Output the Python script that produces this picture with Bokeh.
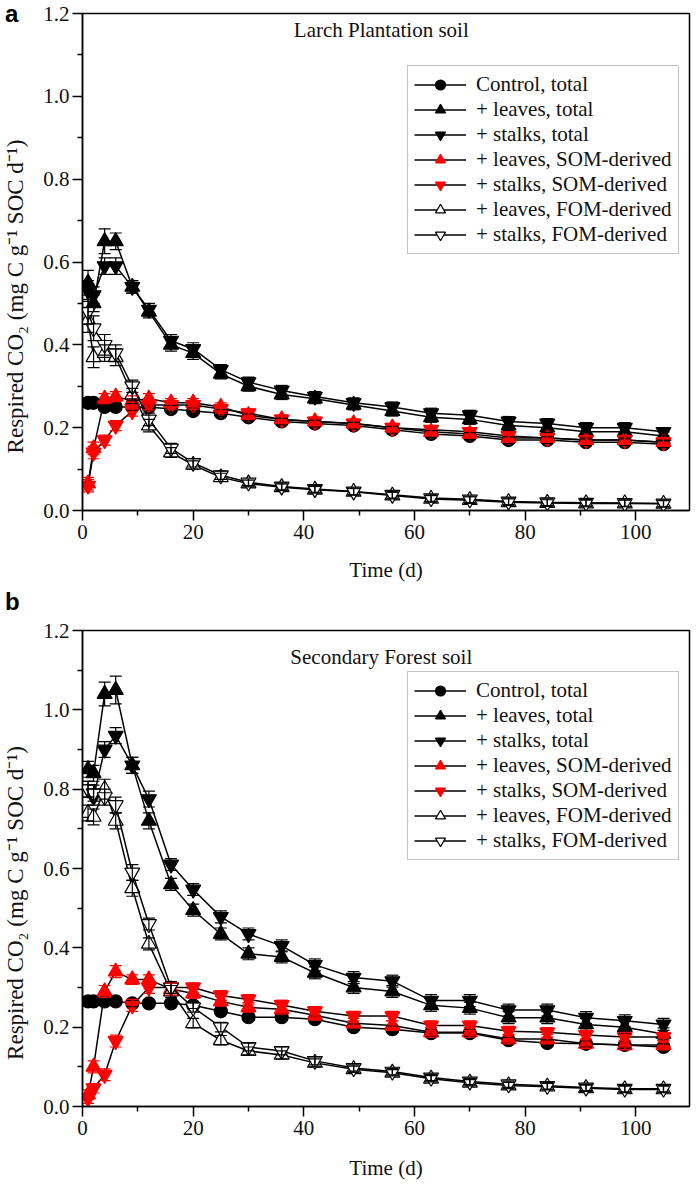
from bokeh.plotting import figure
from bokeh.models import (ColumnDataSource, Whisker, TeeHead, Label, Legend, LegendItem,
                          FixedTicker, NumeralTickFormatter, Range1d, Div)
from bokeh.layouts import column
from bokeh.embed import file_html
from bokeh.resources import INLINE

# ---------------- data ----------------
days = [1, 2, 4, 6, 9, 12, 16, 20, 25, 30, 36, 42, 49, 56, 63, 70, 77, 84, 91, 98, 105]

x_ticks = [0, 20, 40, 60, 80, 100]
x_minor = [10, 30, 50, 70, 90]
y_ticks = [0.0, 0.2, 0.4, 0.6, 0.8, 1.0, 1.2]
y_minor = [0.1, 0.3, 0.5, 0.7, 0.9, 1.1]

labels = ["Control, total", "+ leaves, total", "+ stalks, total",
          "+ leaves, SOM-derived", "+ stalks, SOM-derived",
          "+ leaves, FOM-derived", "+ stalks, FOM-derived"]
markers = ["circle", "triangle", "inverted_triangle", "triangle", "inverted_triangle",
           "triangle", "inverted_triangle"]
fills = ["black", "black", "black", "red", "red", "white", "white"]
edges = ["black", "black", "black", "red", "red", "black", "black"]

# panel a: Larch Plantation soil
ctrl_a = [0.26, 0.26, 0.25, 0.25, 0.25, 0.25, 0.245, 0.24, 0.235, 0.225, 0.215, 0.21, 0.205, 0.195, 0.185, 0.18, 0.17, 0.17, 0.165, 0.165, 0.16]
leaves_tot_a = [0.55, 0.50, 0.65, 0.65, 0.54, 0.48, 0.40, 0.38, 0.33, 0.30, 0.28, 0.27, 0.255, 0.24, 0.225, 0.22, 0.205, 0.20, 0.19, 0.19, 0.18]
stalks_tot_a = [0.53, 0.52, 0.59, 0.59, 0.54, 0.485, 0.41, 0.39, 0.34, 0.31, 0.29, 0.275, 0.26, 0.25, 0.235, 0.23, 0.215, 0.21, 0.20, 0.20, 0.19]
leaves_som_a = [0.065, 0.15, 0.27, 0.275, 0.265, 0.27, 0.26, 0.26, 0.25, 0.23, 0.22, 0.215, 0.21, 0.20, 0.19, 0.185, 0.175, 0.175, 0.17, 0.17, 0.165]
stalks_som_a = [0.06, 0.14, 0.17, 0.205, 0.24, 0.255, 0.255, 0.255, 0.245, 0.235, 0.22, 0.215, 0.21, 0.20, 0.195, 0.19, 0.18, 0.175, 0.17, 0.17, 0.165]
leaves_fom_a = [0.46, 0.37, 0.38, 0.37, 0.28, 0.205, 0.14, 0.11, 0.08, 0.065, 0.056, 0.05, 0.045, 0.036, 0.028, 0.025, 0.02, 0.018, 0.017, 0.017, 0.016]
stalks_fom_a = [0.48, 0.44, 0.40, 0.38, 0.30, 0.22, 0.15, 0.115, 0.085, 0.068, 0.058, 0.052, 0.046, 0.038, 0.03, 0.027, 0.022, 0.02, 0.019, 0.018, 0.017]

err_ctrl_a = [0.010, 0.008, 0.008, 0.008, 0.008, 0.008, 0.008, 0.008, 0.008, 0.008, 0.008, 0.008, 0.008, 0.008, 0.008, 0.008, 0.008, 0.008, 0.008, 0.008, 0.008]
err_leaves_tot_a = [0.030, 0.020, 0.030, 0.020, 0.015, 0.015, 0.015, 0.015, 0.012, 0.012, 0.012, 0.012, 0.012, 0.012, 0.012, 0.012, 0.012, 0.012, 0.012, 0.012, 0.010]
err_stalks_tot_a = [0.025, 0.020, 0.020, 0.020, 0.015, 0.015, 0.015, 0.015, 0.012, 0.012, 0.012, 0.012, 0.012, 0.012, 0.012, 0.012, 0.012, 0.012, 0.012, 0.012, 0.010]
err_leaves_som_a = [0.015, 0.015, 0.012, 0.012, 0.012, 0.012, 0.010, 0.010, 0.010, 0.010, 0.010, 0.010, 0.010, 0.010, 0.010, 0.010, 0.010, 0.010, 0.010, 0.010, 0.010]
err_stalks_som_a = [0.015, 0.015, 0.012, 0.012, 0.012, 0.012, 0.010, 0.010, 0.010, 0.010, 0.010, 0.010, 0.010, 0.010, 0.010, 0.010, 0.010, 0.010, 0.010, 0.010, 0.010]
err_leaves_fom_a = [0.030, 0.025, 0.020, 0.020, 0.015, 0.015, 0.012, 0.010, 0.010, 0.008, 0.008, 0.008, 0.008, 0.008, 0.008, 0.008, 0.008, 0.008, 0.008, 0.008, 0.008]
err_stalks_fom_a = [0.030, 0.030, 0.025, 0.020, 0.015, 0.015, 0.012, 0.010, 0.010, 0.008, 0.008, 0.008, 0.008, 0.008, 0.008, 0.008, 0.008, 0.008, 0.008, 0.008, 0.008]

# panel b: Secondary Forest soil
ctrl_b = [0.265, 0.265, 0.265, 0.265, 0.26, 0.26, 0.26, 0.255, 0.24, 0.225, 0.225, 0.22, 0.20, 0.195, 0.185, 0.185, 0.167, 0.16, 0.158, 0.155, 0.15]
leaves_tot_b = [0.85, 0.84, 1.04, 1.05, 0.86, 0.72, 0.56, 0.495, 0.435, 0.385, 0.377, 0.337, 0.30, 0.29, 0.255, 0.248, 0.224, 0.224, 0.207, 0.20, 0.183]
stalks_tot_b = [0.80, 0.78, 0.90, 0.935, 0.86, 0.775, 0.61, 0.547, 0.478, 0.435, 0.405, 0.357, 0.325, 0.316, 0.267, 0.267, 0.243, 0.243, 0.224, 0.216, 0.207]
leaves_som_b = [0.03, 0.10, 0.29, 0.34, 0.32, 0.32, 0.296, 0.285, 0.265, 0.25, 0.245, 0.23, 0.21, 0.204, 0.187, 0.187, 0.17, 0.17, 0.158, 0.155, 0.155]
stalks_som_b = [0.02, 0.046, 0.08, 0.165, 0.255, 0.30, 0.30, 0.30, 0.28, 0.27, 0.256, 0.24, 0.228, 0.228, 0.204, 0.204, 0.19, 0.187, 0.18, 0.175, 0.175]
leaves_fom_b = [0.74, 0.73, 0.80, 0.72, 0.55, 0.41, 0.29, 0.21, 0.167, 0.14, 0.13, 0.11, 0.094, 0.085, 0.07, 0.06, 0.053, 0.05, 0.046, 0.043, 0.043]
stalks_fom_b = [0.80, 0.79, 0.78, 0.76, 0.59, 0.46, 0.30, 0.25, 0.20, 0.15, 0.14, 0.115, 0.097, 0.088, 0.073, 0.063, 0.056, 0.052, 0.048, 0.045, 0.045]

err_ctrl_b = [0.010, 0.008, 0.008, 0.008, 0.008, 0.008, 0.008, 0.008, 0.008, 0.008, 0.008, 0.008, 0.008, 0.008, 0.008, 0.008, 0.008, 0.008, 0.008, 0.008, 0.008]
err_leaves_tot_b = [0.020, 0.020, 0.030, 0.035, 0.020, 0.020, 0.015, 0.015, 0.015, 0.015, 0.015, 0.015, 0.015, 0.015, 0.015, 0.015, 0.015, 0.015, 0.015, 0.015, 0.015]
err_stalks_tot_b = [0.020, 0.020, 0.020, 0.020, 0.020, 0.020, 0.015, 0.015, 0.015, 0.015, 0.015, 0.015, 0.015, 0.015, 0.015, 0.015, 0.015, 0.015, 0.015, 0.015, 0.015]
err_leaves_som_b = [0.012, 0.015, 0.015, 0.015, 0.012, 0.012, 0.015, 0.012, 0.012, 0.012, 0.012, 0.012, 0.012, 0.012, 0.012, 0.012, 0.012, 0.012, 0.012, 0.012, 0.012]
err_stalks_som_b = [0.012, 0.012, 0.015, 0.015, 0.015, 0.015, 0.015, 0.012, 0.012, 0.012, 0.012, 0.012, 0.012, 0.012, 0.012, 0.012, 0.012, 0.012, 0.012, 0.012, 0.012]
err_leaves_fom_b = [0.020, 0.020, 0.025, 0.020, 0.020, 0.015, 0.015, 0.012, 0.012, 0.010, 0.010, 0.010, 0.008, 0.008, 0.008, 0.008, 0.008, 0.008, 0.008, 0.008, 0.008]
err_stalks_fom_b = [0.020, 0.020, 0.020, 0.020, 0.020, 0.015, 0.015, 0.012, 0.012, 0.010, 0.010, 0.010, 0.008, 0.008, 0.008, 0.008, 0.008, 0.008, 0.008, 0.008, 0.008]

series_a = [ctrl_a, leaves_tot_a, stalks_tot_a, leaves_som_a, stalks_som_a, leaves_fom_a, stalks_fom_a]
errors_a = [err_ctrl_a, err_leaves_tot_a, err_stalks_tot_a, err_leaves_som_a, err_stalks_som_a, err_leaves_fom_a, err_stalks_fom_a]
series_b = [ctrl_b, leaves_tot_b, stalks_tot_b, leaves_som_b, stalks_som_b, leaves_fom_b, stalks_fom_b]
errors_b = [err_ctrl_b, err_leaves_tot_b, err_stalks_tot_b, err_leaves_som_b, err_stalks_som_b, err_leaves_fom_b, err_stalks_fom_b]

SERIF = "Liberation Serif"
FS = "21px"
Y_LABEL = "Respired CO\u2082 (mg C g\u207b\u00b9 SOC d\u207b\u00b9)\u2003\u2003\u2003"


def make_panel(title, series, errors, height, b_top, b_bottom, title_y, legend_y, xl_standoff):
    p = figure(width=692, height=height, x_range=Range1d(0, 109.7), y_range=Range1d(0, 1.2),
               output_backend="svg", toolbar_location=None,
               min_border_left=80, min_border_right=3, min_border_top=b_top,
               min_border_bottom=b_bottom, background_fill_color="white",
               border_fill_color="white")
    p.grid.visible = False
    p.outline_line_color = "black"
    p.outline_line_width = 1.5
    p.outline_line_alpha = 1.0

    p.xaxis.ticker = FixedTicker(ticks=x_ticks, minor_ticks=x_minor)
    p.yaxis.ticker = FixedTicker(ticks=y_ticks, minor_ticks=y_minor)
    p.yaxis.formatter = NumeralTickFormatter(format="0.0")
    p.xaxis.axis_label = "Time (d)"
    p.yaxis.axis_label = Y_LABEL
    for ax in (p.xaxis, p.yaxis):
        ax.axis_line_color = "black"
        ax.axis_line_width = 1.5
        ax.major_tick_out = 10
        ax.major_tick_in = 0
        ax.minor_tick_out = 5
        ax.minor_tick_in = 0
        ax.major_tick_line_width = 1.5
        ax.minor_tick_line_width = 1.5
        ax.major_tick_line_color = "black"
        ax.minor_tick_line_color = "black"
        ax.major_label_text_font = SERIF
        ax.major_label_text_font_size = FS
        ax.major_label_text_color = "#111111"
        ax.axis_label_text_font = SERIF
        ax.axis_label_text_font_size = FS
        ax.axis_label_text_font_style = "normal"
        ax.axis_label_text_color = "#111111"
    p.yaxis.axis_label_text_font_size = "23px"
    p.xaxis.major_label_standoff = 4
    p.xaxis.axis_label_standoff = xl_standoff
    p.yaxis.major_label_standoff = 3
    p.yaxis.axis_label_standoff = 12

    items = []
    for lab, mk, fc, ec, ys, es in zip(labels, markers, fills, edges, series, errors):
        src = ColumnDataSource(dict(x=days, y=ys,
                                    lo=[a - b for a, b in zip(ys, es)],
                                    hi=[a + b for a, b in zip(ys, es)]))
        w = Whisker(source=src, base="x", upper="hi", lower="lo",
                    line_color=ec, line_width=1.2, level="glyph",
                    upper_head=TeeHead(size=12, line_color=ec, line_width=1.2),
                    lower_head=TeeHead(size=12, line_color=ec, line_width=1.2))
        p.add_layout(w)
        lr = p.line("x", "y", source=src, line_color="black", line_width=1.5)
        sr = p.scatter("x", "y", source=src, marker=mk, size=13 if mk == "circle" else 15,
                       fill_color=fc, line_color=ec, line_width=1.2)
        items.append(LegendItem(label=lab, renderers=[lr, sr]))

    leg = Legend(items=items, location=(325, legend_y), orientation="vertical",
                 glyph_width=52, glyph_height=25, label_height=25, spacing=0,
                 label_standoff=10, padding=6, margin=0,
                 label_text_font=SERIF, label_text_font_size=FS, label_text_color="#111111",
                 border_line_color="#888888", border_line_width=1.5,
                 background_fill_color="white", background_fill_alpha=1.0)
    p.add_layout(leg, "center")

    p.add_layout(Label(x=54, y=title_y, text=title, text_align="center",
                       text_baseline="middle", text_font=SERIF,
                       text_font_size=FS, text_color="#111111"))
    return p


def tag(text, top):
    return Div(text=text, width=24, height=28,
               styles={"position": "absolute", "left": "5px", "top": f"{top}px",
                       "font-family": "Liberation Sans", "font-weight": "bold",
                       "font-size": "24px", "line-height": "24px", "color": "black",
                       "margin": "0", "padding": "0", "z-index": "10"})


p1 = make_panel("Larch Plantation soil", series_a, errors_a,
                height=588, b_top=13, b_bottom=78, title_y=1.159, legend_y=256, xl_standoff=16)
p2 = make_panel("Secondary Forest soil", series_b, errors_b,
                height=598, b_top=42, b_bottom=80, title_y=1.134, legend_y=246, xl_standoff=18)

layout = column(p1, p2, tag("a", 2), tag("b", 590), spacing=0,
                styles={"position": "relative"})
open("out.html", "w").write(file_html(layout, INLINE))
